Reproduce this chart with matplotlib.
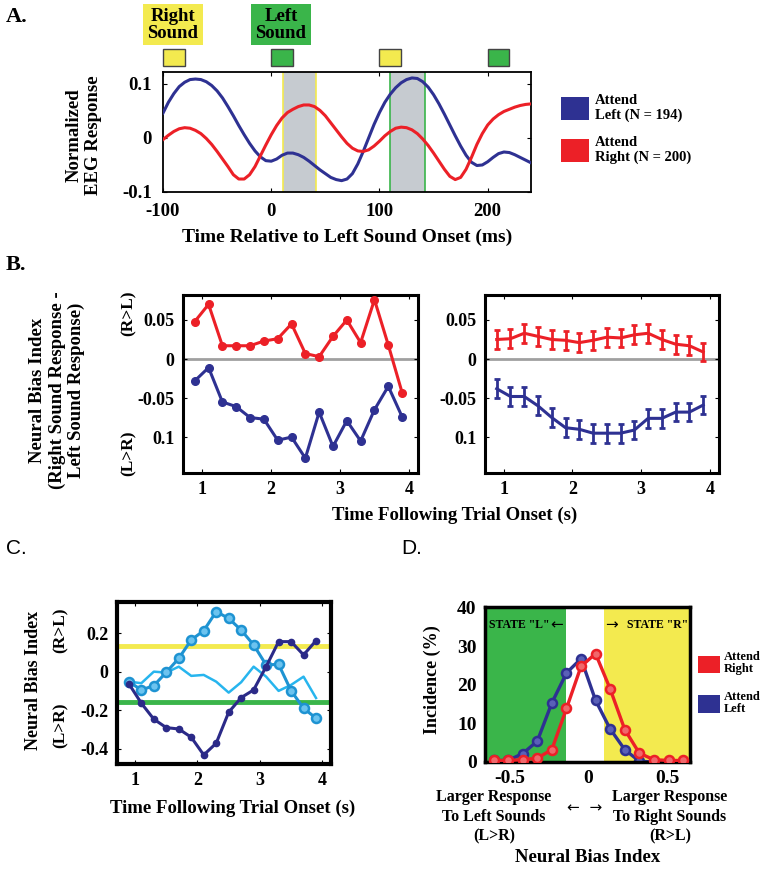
import matplotlib
matplotlib.use("Agg")
import matplotlib.pyplot as plt
from matplotlib.patches import Rectangle
import matplotlib.transforms as mtransforms

W, H = 764, 869
SERIF = "Liberation Serif"
SANS = "Liberation Sans"
plt.rcParams['font.family'] = [SERIF, 'DejaVu Sans']
plt.rcParams['font.weight'] = 'bold'

BLUE = "#2e3192"
RED = "#ec2027"
YEL = "#f3ea4f"
GRN = "#3ab54a"
NAVY = "#2b2a88"
MBLUE = "#1e93d2"
CYAN = "#27b5ee"

# ---------------- Panel A data ----------------
time_ms = list(range(-100, 241, 5))
attend_left_eeg = [0.046, 0.066, 0.082, 0.095, 0.103, 0.108, 0.109, 0.108, 0.104, 0.097,
                   0.087, 0.074, 0.058, 0.041, 0.023, 0.006, -0.010, -0.024, -0.035, -0.042,
                   -0.043, -0.039, -0.032, -0.028, -0.028, -0.031, -0.036, -0.043, -0.051,
                   -0.059, -0.066, -0.073, -0.077, -0.079, -0.076, -0.066, -0.048, -0.025,
                   0.000, 0.025, 0.047, 0.066, 0.081, 0.093, 0.102, 0.108, 0.111, 0.110,
                   0.104, 0.094, 0.080, 0.063, 0.044, 0.024, 0.004, -0.015, -0.032, -0.045,
                   -0.051, -0.050, -0.044, -0.036, -0.029, -0.026, -0.027, -0.031, -0.036,
                   -0.041, -0.046]
attend_right_eeg = [-0.003, 0.005, 0.012, 0.017, 0.019, 0.018, 0.014, 0.008, -0.001, -0.012,
                    -0.025, -0.039, -0.053, -0.068, -0.076, -0.076, -0.068, -0.053, -0.033,
                    -0.013, 0.006, 0.023, 0.037, 0.047, 0.053, 0.058, 0.061, 0.061, 0.058,
                    0.051, 0.041, 0.028, 0.015, 0.002, -0.010, -0.019, -0.024, -0.025, -0.022,
                    -0.015, -0.006, 0.004, 0.012, 0.018, 0.020, 0.019, 0.015, 0.008, -0.002,
                    -0.014, -0.028, -0.043, -0.058, -0.071, -0.077, -0.073, -0.058, -0.036,
                    -0.012, 0.008, 0.024, 0.035, 0.043, 0.049, 0.053, 0.057, 0.060, 0.062,
                    0.063]
sound_onsets = [-100, 0, 100, 200]
sound_sides = ["R", "L", "R", "L"]
sound_dur = 20
windows = [(11, 41, "R"), (110, 142, "L")]
a_xticks = [-100, 0, 100, 200]
a_yticks = [-0.1, 0, 0.1]
a_yticklabels = ["-0.1", "0", "0.1"]

# ---------------- Panel B data ----------------
trial_t = [0.9, 1.1, 1.3, 1.5, 1.7, 1.9, 2.1, 2.3, 2.5, 2.7, 2.9, 3.1, 3.3, 3.5, 3.7, 3.9]
b_right_single = [0.048, 0.070, 0.017, 0.017, 0.017, 0.023, 0.026, 0.045, 0.007, 0.003,
                  0.029, 0.050, 0.021, 0.076, 0.018, -0.043]
b_left_single = [-0.028, -0.011, -0.055, -0.061, -0.075, -0.077, -0.104, -0.100, -0.127,
                 -0.068, -0.112, -0.079, -0.105, -0.065, -0.035, -0.074]
b_right_mean = [0.025, 0.026, 0.033, 0.029, 0.025, 0.024, 0.021, 0.024, 0.028, 0.027,
                0.031, 0.033, 0.025, 0.019, 0.017, 0.009]
b_left_mean = [-0.038, -0.048, -0.048, -0.060, -0.075, -0.088, -0.090, -0.095, -0.095,
               -0.095, -0.091, -0.076, -0.076, -0.068, -0.068, -0.059]
b_err = [0.012] * 16
b_yticks = [-0.1, -0.05, 0, 0.05]
b_yticklabels = ["0.1", "-0.05", "0", "0.05"]

# ---------------- Panel C data ----------------
c_trial_a = [-0.063, -0.164, -0.247, -0.291, -0.298, -0.341, -0.433, -0.372, -0.211, -0.135,
             -0.095, 0.026, 0.156, 0.156, 0.087, 0.161]
c_trial_b = [-0.052, -0.095, -0.073, -0.003, 0.069, 0.165, 0.213, 0.312, 0.277, 0.216,
             0.139, 0.035, 0.038, -0.099, -0.190, -0.242]
c_trial_c = [-0.052, -0.060, 0.000, -0.005, 0.026, -0.022, -0.017, -0.052, -0.109, -0.055,
             0.026, -0.026, -0.100, -0.069, -0.026, -0.137]
state_r_thresh = 0.135
state_l_thresh = -0.156
c_yticks = [-0.4, -0.2, 0, 0.2]

# ---------------- Panel D data ----------------
bias_bins = [-0.600, -0.508, -0.415, -0.323, -0.231, -0.138, -0.046, 0.046, 0.138, 0.231,
             0.323, 0.415, 0.508, 0.600]
incid_right = [0.4, 0.4, 0.6, 1.0, 3.2, 13.9, 24.8, 28.1, 19.0, 8.4, 2.3, 0.6, 0.4, 0.4]
incid_left = [0.4, 0.4, 2.2, 5.4, 15.3, 23.1, 26.8, 16.0, 8.6, 3.2, 0.2, 0.0, 0.0, 0.0]
state_l_edge = -0.143
state_r_edge = 0.10
d_xticks = [-0.5, 0, 0.5]
d_yticks = [0, 10, 20, 30, 40]

fig = plt.figure(figsize=(W / 100, H / 100), dpi=100)


def ax_px(x0, y0, x1, y1):
    return fig.add_axes([x0 / W, 1 - y1 / H, (x1 - x0) / W, (y1 - y0) / H])


def ftext(x, y, s, **kw):
    kw.setdefault('ha', 'center')
    kw.setdefault('va', 'center')
    return fig.text(x / W, 1 - y / H, s, **kw)


def frect(x0, y0, x1, y1, **kw):
    r = Rectangle((x0 / W, 1 - y1 / H), (x1 - x0) / W, (y1 - y0) / H,
                  transform=fig.transFigure, **kw)
    fig.add_artist(r)
    return r


def style_ax(ax, lw, fs):
    for s in ax.spines.values():
        s.set_linewidth(lw)
    ax.tick_params(direction='in', top=True, right=True, length=3, width=0.8,
                   labelsize=fs, pad=6)
    for lab in ax.get_xticklabels() + ax.get_yticklabels():
        lab.set_fontweight('bold')


# ================= Panel A =================
axA = ax_px(163, 72, 531, 192)
for (t0, t1, side) in windows:
    axA.axvspan(t0, t1, facecolor='#c6cbd0', edgecolor='none', zorder=0)
    ec = YEL if side == "R" else GRN
    axA.axvline(t0, color=ec, lw=1.2, zorder=1)
    axA.axvline(t1, color=ec, lw=1.2, zorder=1)
axA.plot(time_ms, attend_left_eeg, color=BLUE, lw=2.2, zorder=3)
axA.plot(time_ms, attend_right_eeg, color=RED, lw=2.2, zorder=3)
axA.set_xlim(-100, 240)
axA.set_ylim(-0.1, 0.122)
axA.set_xticks(a_xticks)
axA.set_xticklabels([str(v) for v in a_xticks])
axA.set_yticks(a_yticks)
axA.set_yticklabels(a_yticklabels)
style_ax(axA, 1.3, 13.5)
axA.tick_params(pad=8)
trans = mtransforms.blended_transform_factory(axA.transData, axA.transAxes)
for on, side in zip(sound_onsets, sound_sides):
    axA.add_patch(Rectangle((on, 1.05), sound_dur, 0.142, transform=trans,
                            facecolor=YEL if side == "R" else GRN, edgecolor='#444444',
                            lw=1.0, clip_on=False))
frect(143, 4, 203, 45, facecolor=YEL, edgecolor='none')
frect(251, 4, 311, 45, facecolor=GRN, edgecolor='none')
ftext(173, 25, "Right\nSound", fontsize=13.5, fontweight='bold', linespacing=1.0)
ftext(281, 25, "Left\nSound", fontsize=13.5, fontweight='bold', linespacing=1.0)
ftext(84, 135, "Normalized\nEEG Response", fontsize=13.5, fontweight='bold', rotation=90,
      linespacing=1.2)
ftext(347, 237, "Time Relative to Left Sound Onset (ms)", fontsize=14, fontweight='bold')
ftext(17, 17, "A.", fontsize=16, fontweight='bold')
frect(561, 97, 589, 120, facecolor=BLUE, edgecolor='none')
frect(561, 139, 589, 162, facecolor=RED, edgecolor='none')
ftext(595, 108, "Attend\nLeft (N = 194)", fontsize=10.5, fontweight='bold', ha='left',
      linespacing=1.1)
ftext(595, 150, "Attend\nRight (N = 200)", fontsize=10.5, fontweight='bold', ha='left',
      linespacing=1.1)

# ================= Panel B =================
axB1 = ax_px(183, 295, 418, 473)
axB1.axhline(0, color='#a0a0a0', lw=2, zorder=1)
axB1.plot(trial_t, b_right_single, color=RED, lw=2.2, marker='o', ms=5.5, zorder=3)
axB1.plot(trial_t, b_left_single, color=BLUE, lw=2.2, marker='o', ms=5.5, zorder=3)
axB2 = ax_px(485, 295, 719, 473)
axB2.axhline(0, color='#a0a0a0', lw=2, zorder=1)
axB2.errorbar(trial_t, b_right_mean, yerr=b_err, color=RED, lw=2.2, elinewidth=2,
              capsize=2.5, capthick=2, zorder=3)
axB2.errorbar(trial_t, b_left_mean, yerr=b_err, color=BLUE, lw=2.2, elinewidth=2,
              capsize=2.5, capthick=2, zorder=3)
for ax in (axB1, axB2):
    ax.set_xlim(0.73, 4.13)
    ax.set_ylim(-0.146, 0.082)
    ax.set_xticks([1, 2, 3, 4])
    ax.set_xticklabels(["1", "2", "3", "4"])
    ax.set_yticks(b_yticks)
    ax.set_yticklabels(b_yticklabels)
    style_ax(ax, 2.2, 13)
ftext(16, 265, "B.", fontsize=16, fontweight='bold')
ftext(57, 390, "Neural Bias Index\n(Right Sound Response -\nLeft Sound Response)",
      fontsize=13.5, fontweight='bold', rotation=90, linespacing=1.2)
ftext(129, 313, "(R>L)", fontsize=12.5, fontweight='bold', rotation=90)
ftext(129, 453, "(L>R)", fontsize=12.5, fontweight='bold', rotation=90)
ftext(455, 515, "Time Following Trial Onset (s)", fontsize=13.5, fontweight='bold')

# ================= Panel C =================
axC = ax_px(117, 602, 331, 764)
axC.axhline(state_r_thresh, color=YEL, lw=3.5, zorder=1)
axC.axhline(state_l_thresh, color=GRN, lw=3.5, zorder=1)
axC.plot(trial_t, c_trial_c, color=CYAN, lw=1.8, zorder=2)
axC.plot(trial_t, c_trial_b, color=MBLUE, lw=2.2, marker='o', ms=6.5, mfc='#6cc3ef',
         mec=MBLUE, mew=1.8, zorder=3)
axC.plot(trial_t, c_trial_a, color=NAVY, lw=2.2, marker='o', ms=4.5, zorder=4)
axC.set_xlim(0.71, 4.14)
axC.set_ylim(-0.48, 0.362)
axC.set_xticks([1, 2, 3, 4])
axC.set_xticklabels(["1", "2", "3", "4"])
axC.set_yticks(c_yticks)
axC.set_yticklabels(["-0.4", "-0.2", "0", "0.2"])
style_ax(axC, 3.0, 13)
ftext(16, 548, "C.", fontsize=15, family=SANS, fontweight='normal')
ftext(33, 680, "Neural Bias Index", fontsize=13, fontweight='bold', rotation=90)
ftext(61, 630, "(R>L)", fontsize=12.5, fontweight='bold', rotation=90)
ftext(61, 725, "(L>R)", fontsize=12.5, fontweight='bold', rotation=90)
ftext(233, 808, "Time Following Trial Onset (s)", fontsize=13.5, fontweight='bold')

# ================= Panel D =================
axD = ax_px(485, 607, 690, 762)
axD.axvspan(-0.7, state_l_edge, facecolor=GRN, edgecolor='none', zorder=0)
axD.axvspan(state_r_edge, 0.7, facecolor=YEL, edgecolor='none', zorder=0)
axD.plot(bias_bins, incid_right, color=RED, lw=2.4, marker='o', ms=6.5, mfc='#f0686c',
         mec=RED, mew=1.8, zorder=3, clip_on=True)
axD.plot(bias_bins, incid_left, color=BLUE, lw=2.4, marker='o', ms=6.5, mfc='#5a60b8',
         mec=BLUE, mew=1.8, zorder=2, clip_on=True)
axD.set_xlim(-0.654, 0.644)
axD.set_ylim(0, 40.2)
axD.set_xticks(d_xticks)
axD.set_xticklabels(["-0.5", "0", "0.5"])
axD.set_yticks(d_yticks)
axD.set_yticklabels([str(v) for v in d_yticks])
style_ax(axD, 2.5, 14)
axD.tick_params(length=0)
ftext(519, 625, 'STATE "L"', fontsize=8.5, fontweight='bold')
ftext(557, 625, '\u2190', fontsize=11, family='DejaVu Sans', fontweight='normal')
ftext(611, 625, '\u2192', fontsize=11, family='DejaVu Sans', fontweight='normal')
ftext(658, 625, 'STATE "R"', fontsize=8.5, fontweight='bold')
ftext(412, 548, "D.", fontsize=15, family=SANS, fontweight='normal')
ftext(432, 680, "Incidence (%)", fontsize=13, fontweight='bold', rotation=90)
frect(698, 656, 720, 673, facecolor=RED, edgecolor='none')
frect(698, 695, 720, 713, facecolor=BLUE, edgecolor='none')
ftext(724, 663, "Attend\nRight", fontsize=9, fontweight='bold', ha='left', linespacing=1.1)
ftext(724, 703, "Attend\nLeft", fontsize=9, fontweight='bold', ha='left', linespacing=1.1)
ftext(494, 817, "Larger Response\nTo Left Sounds\n(L>R)", fontsize=11.5, fontweight='bold',
      linespacing=1.3)
ftext(670, 817, "Larger Response\nTo Right Sounds\n(R>L)", fontsize=11.5, fontweight='bold',
      linespacing=1.3)
ftext(585, 808, "\u2190  \u2192", fontsize=11, family='DejaVu Sans', fontweight='normal')
ftext(588, 858, "Neural Bias Index", fontsize=13.5, fontweight='bold')

fig.savefig("out.png", dpi=100)
